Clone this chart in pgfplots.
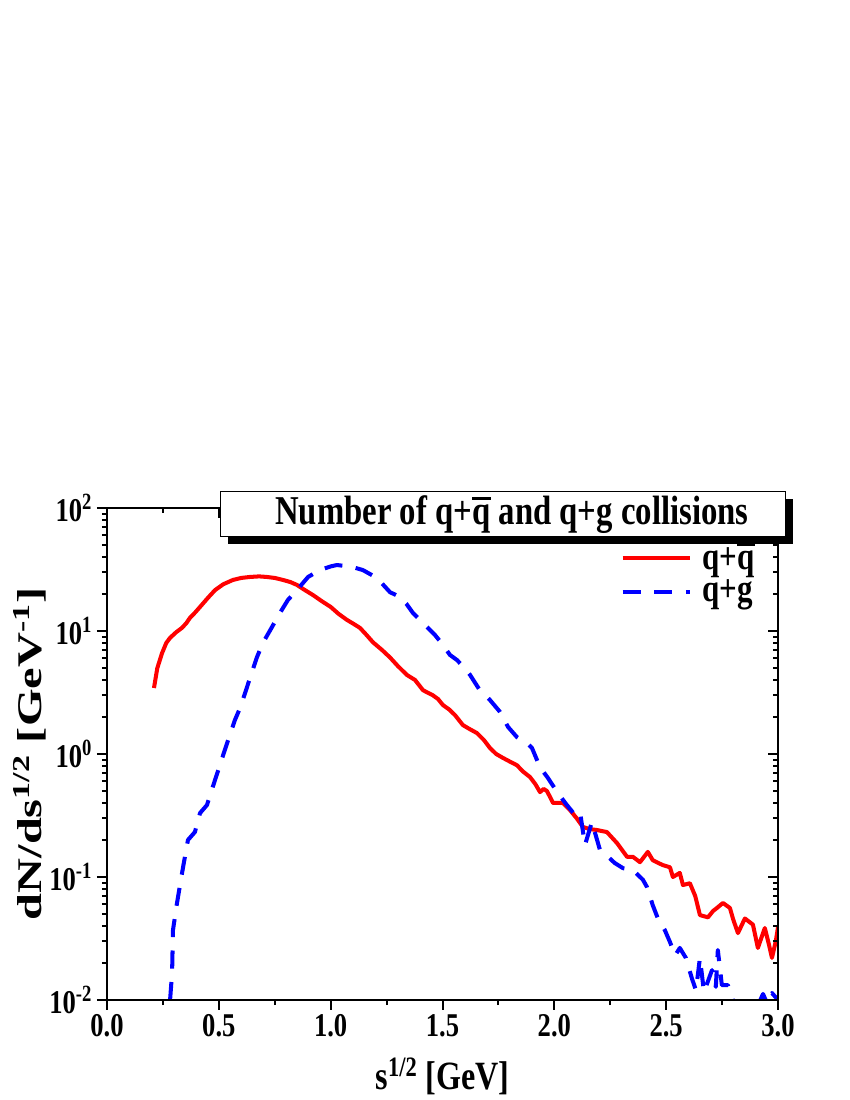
\documentclass[border=0pt]{standalone}
\usepackage{fontspec}
\setmainfont{Liberation Serif}
% the reference is stretched vertically, so horizontal text is narrow and the y label long
\newfontfamily\hfont{Liberation Serif}[FakeStretch=0.8]
\newfontfamily\vfont{Liberation Serif}[FakeStretch=1.4]
\usepackage{pgfplots}
\pgfplotsset{compat=1.18}

\newcommand\qbar{\leavevmode\setbox0\hbox{q}\rlap{\rule[0.6em]{\wd0}{0.08em}}\box0}

\begin{document}
\begin{tikzpicture}
\path[use as bounding box] (0,0) rectangle (612bp,792bp);

\begin{axis}[
  at={(77.04bp,72bp)}, anchor=south west, scale only axis,
  width=483.12bp, height=354.24bp,
  xmin=0, xmax=3, ymin=0.01, ymax=100, ymode=log,
  xtick={0,0.5,1,1.5,2,2.5,3}, minor x tick num=1,
  ytick={0.01,0.1,1,10,100},
  minor ytick={0.02,0.03,0.04,0.05,0.06,0.07,0.08,0.09,
               0.2,0.3,0.4,0.5,0.6,0.7,0.8,0.9,
               2,3,4,5,6,7,8,9,20,30,40,50,60,70,80,90},
  axis line style={line width=1.44bp, black},
  tick style={line width=1.44bp, black},
  major tick length=7.2bp, minor tick length=3.6bp,
  xtick pos=left, ytick pos=left, tick align=outside,
  tick label style={font=\hfont\bfseries\fontsize{24}{24}\selectfont},
  xticklabels={0.0,0.5,1.0,1.5,2.0,2.5,3.0},
  yticklabels={10\textsuperscript{-2},10\textsuperscript{-1},10\textsuperscript{0},10\textsuperscript{1},10\textsuperscript{2}},
  xlabel={s\textsuperscript{1/2} [GeV]},
  ylabel={dN/ds\textsuperscript{1/2} [GeV\textsuperscript{-1}]},
  xlabel style={font=\hfont\bfseries\fontsize{29}{29}\selectfont, at={(axis description cs:0.5,-0.155)}, anchor=center},
  ylabel style={font=\vfont\bfseries\fontsize{25}{25}\selectfont, at={(axis description cs:-0.115,0.5)}, anchor=center},
  legend image code/.code={\draw[#1] (0bp,0bp) -- (48.24bp,0bp);},
  legend style={draw=none, fill=none, at={(axis description cs:0.759,0.94)}, anchor=north west,
    font=\hfont\bfseries\fontsize{28}{28}\selectfont, row sep=2bp,
    /tikz/every odd column/.append style={column sep=5.76bp}},
  legend cell align=left,
]
% q + qbar
\addplot[red, line width=2.9bp, line join=round] coordinates {
(0.21,3.44) (0.225,5.0) (0.246,6.6) (0.265,8.0) (0.282,8.8) (0.31,9.8) (0.335,10.6)
(0.355,11.6) (0.371,12.8) (0.395,14.2) (0.416,15.7) (0.45,18.5) (0.483,21.5) (0.52,24.0)
(0.563,26.0) (0.60,27.0) (0.639,27.5) (0.68,27.8) (0.715,27.5) (0.75,27.0) (0.787,26.0)
(0.82,25.0) (0.849,23.7) (0.885,21.5) (0.921,19.6) (0.96,17.5) (1.0,15.7) (1.035,13.8)
(1.073,12.3) (1.10,11.5) (1.131,10.6) (1.16,9.3) (1.189,8.1) (1.23,7.0) (1.265,6.1)
(1.30,5.2) (1.341,4.39) (1.377,4.0) (1.413,3.3) (1.457,3.0) (1.48,2.8) (1.502,2.5)
(1.53,2.3) (1.556,2.07) (1.591,1.72) (1.62,1.6) (1.654,1.48) (1.685,1.30) (1.712,1.12)
(1.74,1.0) (1.77,0.93) (1.80,0.87) (1.833,0.81) (1.86,0.72) (1.891,0.65) (1.915,0.57)
(1.936,0.49) (1.952,0.52) (1.967,0.50) (1.98,0.45) (1.994,0.40) (2.02,0.40) (2.038,0.40)
(2.07,0.35) (2.10,0.30) (2.128,0.255) (2.16,0.245) (2.19,0.241) (2.235,0.232) (2.28,0.189)
(2.325,0.146) (2.351,0.146) (2.383,0.132) (2.418,0.16) (2.44,0.137) (2.465,0.13)
(2.485,0.125) (2.517,0.12) (2.53,0.10) (2.561,0.108) (2.575,0.086) (2.606,0.089)
(2.63,0.07) (2.651,0.049) (2.687,0.047) (2.71,0.053) (2.727,0.056) (2.754,0.0615)
(2.785,0.056) (2.80,0.045) (2.821,0.035) (2.852,0.046) (2.888,0.041) (2.91,0.0265)
(2.941,0.0385) (2.96,0.028) (2.973,0.022) (2.99,0.03) (3.0,0.039)
};
\addlegendentry{q+\qbar}
% q + g
\addplot[blue, line width=2.9bp, line join=round, dash pattern=on 13bp off 9.7bp] coordinates {
(0.282,0.01) (0.291,0.0166) (0.295,0.037) (0.313,0.0615) (0.34,0.12) (0.362,0.2)
(0.393,0.232) (0.416,0.331) (0.447,0.385) (0.483,0.615) (0.527,1.08) (0.572,1.89)
(0.595,2.37) (0.626,3.5) (0.67,6.1) (0.697,8.0) (0.738,10.8) (0.773,14.0) (0.809,17.9)
(0.849,21.5) (0.899,27.5) (0.952,31.3) (1.0,33.5) (1.028,34.4) (1.05,34.0) (1.073,33.7)
(1.10,33.0) (1.144,31.3) (1.207,27) (1.265,20.7) (1.31,18.9) (1.34,16.5) (1.368,14.0)
(1.40,12.3) (1.43,10.8) (1.466,9.3) (1.50,7.8) (1.533,6.4) (1.565,5.8) (1.59,5.2)
(1.623,4.4) (1.667,3.3) (1.712,2.75) (1.757,2.2) (1.793,1.66) (1.833,1.37) (1.877,1.23)
(1.90,1.12) (1.936,0.78) (1.971,0.64) (2.016,0.48) (2.056,0.385) (2.092,0.32) (2.115,0.337)
(2.137,0.182) (2.168,0.28) (2.204,0.166) (2.24,0.146) (2.27,0.13) (2.307,0.118)
(2.351,0.114) (2.396,0.095) (2.414,0.083) (2.44,0.059) (2.463,0.046) (2.494,0.037)
(2.517,0.0296) (2.54,0.023) (2.561,0.0265) (2.588,0.022) (2.615,0.015) (2.633,0.012)
(2.651,0.022) (2.669,0.0116) (2.705,0.0175) (2.722,0.0128) (2.731,0.0255) (2.749,0.0132)
(2.776,0.0132) (2.807,0.009) (2.91,0.009) (2.933,0.0112) (2.95,0.0095) (2.973,0.0114)
(3.0,0.01)
};
\addlegendentry{q+g}
\end{axis}

% ticks on top and right point inward
\begin{axis}[
  at={(77.04bp,72bp)}, anchor=south west, scale only axis,
  width=483.12bp, height=354.24bp,
  xmin=0, xmax=3, ymin=0.01, ymax=100, ymode=log,
  xtick={0,0.5,1,1.5,2,2.5,3}, minor x tick num=1,
  ytick={0.01,0.1,1,10,100},
  minor ytick={0.02,0.03,0.04,0.05,0.06,0.07,0.08,0.09,
               0.2,0.3,0.4,0.5,0.6,0.7,0.8,0.9,
               2,3,4,5,6,7,8,9,20,30,40,50,60,70,80,90},
  axis line style={line width=1.44bp, black},
  tick style={line width=1.44bp, black},
  major tick length=7.2bp, minor tick length=3.6bp,
  xtick pos=right, ytick pos=right, tick align=inside,
  xticklabels={}, yticklabels={},
]
\end{axis}

% title box with shadow
\fill[black] (164.16bp,400.32bp) rectangle (570.96bp,432.72bp);
\draw[fill=white, line width=0.7bp] (158.4bp,406.08bp) rectangle (565.2bp,438.48bp);
\node[anchor=base, inner sep=0pt] at (368.6bp,414bp)
  {\hfont\bfseries\fontsize{29.6}{30}\selectfont Number of q+\qbar{} and q+g collisions};
\end{tikzpicture}
\end{document}
